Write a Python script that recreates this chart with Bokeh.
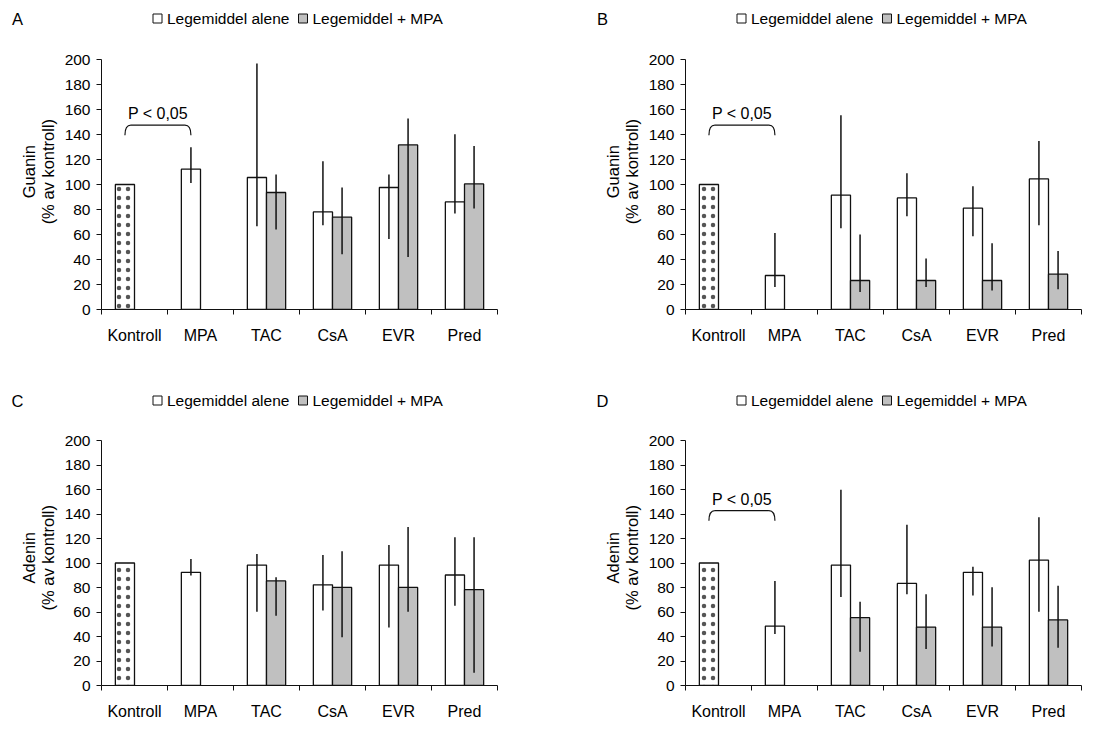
import math
from bokeh.plotting import figure
from bokeh.models import Range1d, FixedTicker
from bokeh.layouts import column, row
from bokeh.embed import file_html
from bokeh.resources import INLINE
from bokeh.core.properties import value

# ---------------- data ----------------
categories = ["Kontroll", "MPA", "TAC", "CsA", "EVR", "Pred"]
combo_categories = ["TAC", "CsA", "EVR", "Pred"]
y_ticks = [0, 20, 40, 60, 80, 100, 120, 140, 160, 180, 200]
legend_labels = ["Legemiddel alene", "Legemiddel + MPA"]
y_subtitle = "(% av kontroll)"
sig_text = "P < 0,05"

# Panel A - Guanin
a_alene = [100, 112.3, 105.6, 78.1, 97.6, 86.1]
a_alene_lo = [None, 101.3, 66.7, 67.5, 56.5, 76.8]
a_alene_hi = [None, 129.9, 196.8, 118.7, 108.0, 140.3]
a_mpa = [93.6, 73.9, 131.7, 100.5]
a_mpa_lo = [64.0, 44.3, 42.1, 80.8]
a_mpa_hi = [108.0, 97.6, 152.8, 130.9]

# Panel B - Guanin
b_alene = [100, 27.2, 91.5, 89.3, 81.1, 104.5]
b_alene_lo = [None, 18.1, 65.1, 74.7, 58.7, 67.5]
b_alene_hi = [None, 61.3, 155.5, 109.1, 98.7, 134.9]
b_mpa = [23.2, 23.2, 23.2, 28.3]
b_mpa_lo = [14.1, 18.1, 15.2, 16.3]
b_mpa_hi = [60.0, 40.8, 53.1, 46.9]

# Panel C - Adenin
c_alene = [100, 92.4, 98.3, 82.2, 98.3, 90.2]
c_alene_lo = [None, 89.7, 60.2, 61.3, 47.4, 65.1]
c_alene_hi = [None, 103.3, 107.4, 106.6, 114.6, 121.0]
c_mpa = [85.4, 80.1, 80.1, 78.2]
c_mpa_lo = [57.0, 39.4, 60.2, 10.4]
c_mpa_hi = [88.4, 109.5, 129.3, 121.0]

# Panel D - Adenin
d_alene = [100, 48.5, 98.3, 83.3, 92.4, 102.3]
d_alene_lo = [None, 42.0, 72.3, 74.4, 73.4, 60.2]
d_alene_hi = [None, 85.4, 159.8, 131.2, 96.9, 137.3]
d_mpa = [55.4, 47.7, 47.7, 53.5]
d_mpa_lo = [27.6, 29.7, 31.9, 30.8]
d_mpa_hi = [68.3, 74.4, 80.3, 81.4]

# significance bracket: (text y, bracket top y, bracket end y)
a_sig = (157, 147.5, 139.5)
b_sig = (157, 147.5, 139.5)
d_sig = (152, 142.7, 134.4)

# ---------------- style ----------------
FONT = "Liberation Sans"
BAR_W = 0.29
GRAY = "#c0c0c0"
INK = "#111111"
CAT_PX = 66.0


def blank(width, height):
    f = figure(width=width, height=height, x_range=Range1d(0, width), y_range=Range1d(0, height),
               output_backend="svg", toolbar_location=None, min_border=0,
               x_axis_location=None, y_axis_location=None)
    f.outline_line_color = None
    f.grid.visible = False
    f.background_fill_color = "white"
    f.border_fill_color = "white"
    return f


def make_header(letter, width, height, axis_x, letter_x, cy):
    h = blank(width, height)
    y = height - cy
    h.text(x=[letter_x], y=[y], text=[letter], text_font=value(FONT), text_font_size="16.5px",
           text_align="center", text_baseline="middle", text_color="black")
    h.rect(x=[axis_x + 56, axis_x + 201.5], y=[y, y], width=9, height=9,
           fill_color=["white", GRAY], line_color=INK, line_width=1)
    h.text(x=[axis_x + 65.5, axis_x + 211], y=[y, y], text=legend_labels, text_font=value(FONT),
           text_font_size="15.5px", text_align="left", text_baseline="middle", text_color="black")
    return h


def make_ytitle(title, width, height, xs, cy):
    t = blank(width, height)
    t.text(x=xs, y=[height - cy, height - cy], text=[title, y_subtitle], angle=math.pi / 2,
           text_font=value(FONT), text_font_size="16.5px", text_align="center",
           text_baseline="middle", text_color="black")
    return t


def make_plot(alene, alo, ahi, mpa, mlo, mhi, sig, width, height, bl, br, bt, bb):
    p = figure(width=width, height=height, x_range=Range1d(0, 6), y_range=Range1d(0, 200),
               output_backend="svg", toolbar_location=None,
               min_border_left=bl, min_border_right=br, min_border_top=bt, min_border_bottom=bb)
    p.outline_line_color = None
    p.xgrid.visible = False
    p.ygrid.visible = False
    p.background_fill_color = "white"
    p.border_fill_color = "white"

    idx = {c: i for i, c in enumerate(categories)}
    xw = [i + 0.5 - BAR_W / 2 for i in range(len(categories))]
    xg = [idx[c] + 0.5 + BAR_W / 2 for c in combo_categories]

    # Kontroll (dotted)
    p.vbar(x=xw[:1], top=alene[:1], width=BAR_W, bottom=0, fill_color="white",
           line_color=INK, line_width=1.3, hatch_pattern="dot", hatch_scale=9,
           hatch_color="#555555", hatch_weight=0.5)
    p.vbar(x=xw[1:], top=alene[1:], width=BAR_W, bottom=0, fill_color="white",
           line_color=INK, line_width=1.3)
    p.vbar(x=xg, top=mpa, width=BAR_W, bottom=0, fill_color=GRAY,
           line_color=INK, line_width=1.3)

    # error bars
    keep = [i for i in range(len(alene)) if alo[i] is not None]
    ex = [xw[i] for i in keep]
    p.segment(x0=ex, y0=[alo[i] for i in keep], x1=ex, y1=[ahi[i] for i in keep],
              line_color=INK, line_width=1.5)
    p.segment(x0=xg, y0=mlo, x1=xg, y1=mhi, line_color=INK, line_width=1.5)

    # significance bracket
    if sig is not None:
        ty, top_y, end_y = sig
        x0, x1 = xw[0], xw[1]
        r = 6 / CAT_PX
        p.line(x=[x0 + r, x1 - r], y=[top_y, top_y], line_color=INK, line_width=1.2)
        p.quadratic(x0=[x0, x1], y0=[end_y, end_y], x1=[x0 + r, x1 - r], y1=[top_y, top_y],
                    cx=[x0, x1], cy=[top_y, top_y], line_color=INK, line_width=1.2)
        p.text(x=[(x0 + x1) / 2], y=[ty], text=[sig_text], text_font=value(FONT),
               text_font_size="16px", text_align="center", text_baseline="middle",
               text_color="black")

    # axes
    xa = p.xaxis[0]
    xa.ticker = FixedTicker(ticks=[i + 0.5 for i in range(6)], minor_ticks=list(range(7)))
    xa.major_label_overrides = {i + 0.5: c for i, c in enumerate(categories)}
    xa.major_tick_line_color = None
    xa.major_tick_out = 0
    xa.major_tick_in = 0
    xa.minor_tick_out = 5
    xa.minor_tick_in = 0
    xa.minor_tick_line_color = INK
    xa.axis_line_color = INK
    xa.major_label_standoff = 12
    xa.major_label_text_font = FONT
    xa.major_label_text_font_size = "16px"
    xa.major_label_text_color = "black"

    ya = p.yaxis[0]
    ya.ticker = FixedTicker(ticks=y_ticks)
    ya.major_tick_out = 5
    ya.major_tick_in = 0
    ya.major_tick_line_color = INK
    ya.minor_tick_line_color = None
    ya.axis_line_color = INK
    ya.major_label_standoff = 6
    ya.major_label_text_font = FONT
    ya.major_label_text_font_size = "15.5px"
    ya.major_label_text_color = "black"
    return p


# ---------------- layout ----------------
# top row: header 40 + body 321 ; bottom row: header 60 + body 301
hA = make_header("A", 543, 40, 101, 17, 18)
hB = make_header("B", 544, 40, 685 - 543, 602 - 543, 18)
hC = make_header("C", 543, 60, 101, 17, 39)
hD = make_header("D", 544, 60, 685 - 543, 602 - 543, 39)

tA = make_ytitle("Guanin", 60, 321, [28, 47.5], 144)
tB = make_ytitle("Guanin", 102, 321, [69, 88.5], 144)
tC = make_ytitle("Adenin", 60, 301, [28, 47.5], 144)
tD = make_ytitle("Adenin", 102, 301, [69, 88.5], 144)

pA = make_plot(a_alene, a_alene_lo, a_alene_hi, a_mpa, a_mpa_lo, a_mpa_hi, a_sig,
               483, 321, 41, 46, 19, 52)
pB = make_plot(b_alene, b_alene_lo, b_alene_hi, b_mpa, b_mpa_lo, b_mpa_hi, b_sig,
               442, 321, 40, 6, 19, 52)
pC = make_plot(c_alene, c_alene_lo, c_alene_hi, c_mpa, c_mpa_lo, c_mpa_hi, None,
               483, 301, 41, 46, 19, 32)
pD = make_plot(d_alene, d_alene_lo, d_alene_hi, d_mpa, d_mpa_lo, d_mpa_hi, d_sig,
               442, 301, 40, 6, 19, 32)

layout = column(
    row(column(hA, row(tA, pA)), column(hB, row(tB, pB))),
    row(column(hC, row(tC, pC)), column(hD, row(tD, pD))),
)
open("out.html", "w").write(file_html(layout, INLINE))
